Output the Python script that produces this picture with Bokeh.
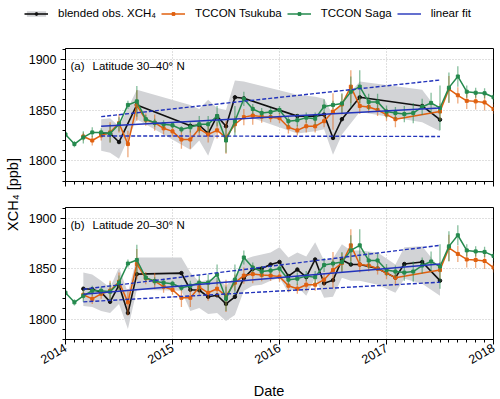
import math
from bokeh.plotting import figure
from bokeh.models import Range1d, FixedTicker, Legend, LegendItem, Label
from bokeh.layouts import column, row
from bokeh.embed import file_html
from bokeh.resources import INLINE

FONT = "Liberation Sans"
ORANGE = "#e0600f"
GREEN = "#258a4e"
BLUE = "#2233bb"
BLACK = "#111111"
GREY = "#d2d3d6"

# ---------------- data (x = months since Jan 2014) ----------------
tsukuba_month = [2, 3, 4, 5, 6, 7, 8, 9, 10, 11, 12, 13, 14, 15, 16, 17, 18, 19, 20, 21, 22, 23, 24,
                 25, 26, 27, 28, 29, 30, 31, 32, 33, 34, 35, 36, 37, 42, 43, 44, 45, 46, 47, 48]
tsukuba_xch4 = [1824, 1820, 1825, 1828, 1837, 1816.5, 1854.5, 1840.5, 1837.5, 1832, 1829, 1821, 1821,
                1831.5, 1826, 1830, 1823, 1836, 1843, 1844.5, 1843.5, 1843, 1842, 1833, 1830, 1834, 1834,
                1839, 1848.5, 1855.5, 1873, 1854, 1853, 1850, 1845.5, 1841, 1848.5, 1870.5, 1864.5, 1859,
                1858.5, 1857.5, 1851]
tsukuba_err = [4, 5, 5, 10, 9, 13, 15, 6, 8, 6, 5, 9, 9, 8, 8, 8, 16, 8, 8, 9, 6, 5, 5, 6, 5, 6, 6, 6,
               18, 10, 16, 8, 6, 6, 6, 8, 8, 13, 8, 8, 8, 8, 5]

saga_month = list(range(0, 49))
saga_xch4 = [1826, 1816.5, 1823, 1828, 1828, 1827, 1836, 1855, 1858.5, 1841,
             1837.5, 1836, 1835, 1831, 1833, 1836, 1836, 1844, 1820, 1839,
             1861, 1851, 1847, 1848, 1850, 1839, 1840, 1842.5, 1841.5, 1853.5,
             1855, 1856.5, 1868, 1873, 1858, 1858, 1848.5, 1847, 1846, 1847,
             1853, 1857, 1852, 1872, 1883, 1868, 1867, 1866.5, 1862.5]
saga_err = [3, 3, 6, 5, 4, 9, 7, 4, 15, 4, 4, 4, 3, 3, 5, 8, 8, 10, 12, 15,
            7, 5, 5, 4, 4, 5, 6, 5, 6, 7, 4, 10, 15, 16, 8, 8, 6, 6, 8, 10,
            8, 10, 22, 15, 10, 6, 5, 5, 5]

blend_a_month = [4, 5, 6, 8, 14, 15, 16, 17, 18, 19, 20, 26, 28, 29, 30, 31, 33, 40, 42]
blend_a_xch4 = [1827, 1827, 1818.5, 1855, 1834.5, 1835, 1827, 1844, 1834, 1862.5, 1861.5, 1844, 1844,
                1845.5, 1822.5, 1841, 1862.5, 1854, 1840.5]
blend_a_hi = [1841, 1842, 1834, 1870, 1855, 1851, 1860, 1852, 1850, 1879, 1878, 1865, 1863, 1861, 1845,
              1858, 1878, 1870, 1847]
blend_a_lo = [1810, 1808, 1802, 1841, 1811, 1820, 1805, 1830, 1820, 1838, 1845, 1827, 1829, 1831, 1806,
              1826, 1848, 1838, 1829]

blend_b_month = [2, 3, 4, 5, 6, 7, 8, 13, 14, 15, 16, 17, 18, 19, 20, 21, 22, 23, 24, 25, 26, 27, 28,
                 29, 30, 31, 32, 33, 35, 37, 38, 40, 42]
blend_b_xch4 = [1830, 1829.5, 1826.5, 1817, 1833.5, 1806, 1844.5, 1845.5, 1829, 1828.5, 1822, 1823.5,
                1815, 1822, 1840.5, 1849.5, 1850, 1854, 1856.5, 1842.5, 1849, 1841.5, 1859, 1835.5,
                1838.5, 1858.5, 1854, 1854, 1850, 1841, 1854.5, 1856.5, 1838]
blend_b_hi = [1846, 1844, 1838, 1831, 1851, 1826, 1861, 1861, 1846, 1837, 1839, 1841, 1833, 1842, 1859,
              1862, 1864, 1866, 1871, 1861, 1866, 1862, 1876, 1858, 1860, 1874, 1868, 1868, 1866, 1854,
              1871, 1872, 1850]
blend_b_lo = [1813, 1812, 1808, 1806, 1815, 1790, 1829, 1828, 1808, 1811, 1805, 1806, 1798, 1804, 1828,
              1833, 1834, 1838, 1841, 1826, 1832, 1823, 1841, 1821, 1822, 1841, 1838, 1838, 1834, 1826,
              1840, 1835, 1823]

fit_a_month = [4, 42]
fit_a = [1834, 1852]
fit_a_hi = [1843.5, 1879.5]
fit_a_lo = [1824.5, 1824]

fit_b_month = [2, 42]
fit_b = [1824.5, 1854.5]
fit_b_hi = [1829.5, 1873]
fit_b_lo = [1817, 1836.5]

year_ticks = [2014, 2015, 2016, 2017, 2018]
xch4_ticks = [1800, 1850, 1900]
xch4_minor = list(range(1780, 1911, 10))


def to_year(months):
    return [2014 + m / 12.0 for m in months]


month_ticks = to_year(range(0, 49))


def style_axis(ax, label_size):
    ax.axis_line_color = "black"
    ax.axis_line_width = 1
    ax.major_tick_line_color = "black"
    ax.minor_tick_line_color = "black"
    ax.major_tick_in = 0
    ax.major_tick_out = 5
    ax.minor_tick_in = 0
    ax.minor_tick_out = 3
    ax.major_label_text_font = FONT
    ax.major_label_text_font_size = label_size
    ax.major_label_text_color = "black"


def blank_strip(width, height):
    f = figure(width=width, height=height, x_range=Range1d(0, 1), y_range=Range1d(0, 1),
               output_backend="svg", toolbar_location=None, min_border=0,
               x_axis_location=None, y_axis_location=None)
    f.outline_line_color = None
    f.grid.visible = False
    return f


def make_panel(tag, lat, bm, bv, bhi, blo, fm, fv, fhi, flo, height, top, bottom, frame_h, last):
    p = figure(width=473, height=height, x_range=Range1d(2014, 2018),
               y_range=Range1d(1779.7, 1910.5), output_backend="svg", toolbar_location=None,
               min_border_left=38, min_border_right=5, min_border_top=top,
               min_border_bottom=bottom)
    p.outline_line_color = "black"
    p.outline_line_width = 1
    p.outline_line_alpha = 1

    bx = to_year(bm)
    p.varea(x=bx, y1=blo, y2=bhi, fill_color=GREY, fill_alpha=1)
    p.line(bx, bv, line_color=BLACK, line_width=1.6)
    p.scatter(bx, bv, marker="circle", size=3.5, color=BLACK)

    tx = to_year(tsukuba_month)
    p.segment(x0=tx, y0=[v - e for v, e in zip(tsukuba_xch4, tsukuba_err)], x1=tx,
              y1=[v + e for v, e in zip(tsukuba_xch4, tsukuba_err)],
              line_color=ORANGE, line_alpha=0.55, line_width=1.3)
    p.line(tx, tsukuba_xch4, line_color=ORANGE, line_width=1.5)
    p.scatter(tx, tsukuba_xch4, marker="square", size=3, color=ORANGE)

    sx = to_year(saga_month)
    p.segment(x0=sx, y0=[v - e for v, e in zip(saga_xch4, saga_err)], x1=sx,
              y1=[v + e for v, e in zip(saga_xch4, saga_err)],
              line_color=GREEN, line_alpha=0.55, line_width=1.3)
    p.line(sx, saga_xch4, line_color=GREEN, line_width=1.5)
    p.scatter(sx, saga_xch4, marker="square", size=3, color=GREEN)

    fx = to_year(fm)
    p.line(fx, fv, line_color=BLUE, line_width=1.4)
    p.line(fx, fhi, line_color=BLUE, line_width=1.4, line_dash="4 2")
    p.line(fx, flo, line_color=BLUE, line_width=1.4, line_dash="4 2")

    xa = p.xaxis[0]
    xa.ticker = FixedTicker(ticks=year_ticks, minor_ticks=month_ticks)
    style_axis(xa, "12.5px")
    if last:
        xa.major_label_orientation = math.pi / 6
        xa.major_label_standoff = 2
    else:
        xa.major_label_text_font_size = "10px"
        xa.major_label_standoff = 0
        xa.major_label_overrides = {y: "" for y in year_ticks}

    ya = p.yaxis[0]
    ya.ticker = FixedTicker(ticks=xch4_ticks, minor_ticks=xch4_minor)
    style_axis(ya, "12.5px")
    ya.major_label_standoff = 4

    p.xgrid.ticker = FixedTicker(ticks=year_ticks)
    p.ygrid.ticker = FixedTicker(ticks=xch4_ticks)
    for g in (p.xgrid, p.ygrid):
        g.grid_line_color = "#b0b0b0"
        g.grid_line_dash = "1 2"
        g.grid_line_width = 0.8

    p.add_layout(Label(x=5, y=frame_h - 17.5, x_units="screen", y_units="screen", text=tag,
                       text_font=FONT, text_font_size="11.5px", text_baseline="alphabetic",
                       text_color="black"))
    p.add_layout(Label(x=27, y=frame_h - 17.5, x_units="screen", y_units="screen", text=lat,
                       text_font=FONT, text_font_size="11.5px", text_baseline="alphabetic",
                       text_color="black"))
    return p


p1 = make_panel("(a)", "Latitude 30\u201340\u00b0 N", blend_a_month, blend_a_xch4, blend_a_hi,
                blend_a_lo, fit_a_month, fit_a, fit_a_hi, fit_a_lo,
                height=171, top=18, bottom=20, frame_h=133, last=False)
p2 = make_panel("(b)", "Latitude 20\u201330\u00b0 N", blend_b_month, blend_b_xch4, blend_b_hi,
                blend_b_lo, fit_b_month, fit_b, fit_b_hi, fit_b_lo,
                height=174, top=6, bottom=36, frame_h=132, last=True)

# ---------------- x-axis title strip (its frame is aligned with the panels' frames) ----------------
datef = blank_strip(473, 24)
datef.add_layout(Label(x=203.5, y=9, x_units="screen", y_units="screen", text="Date",
                       text_align="center", text_baseline="middle", text_font=FONT,
                       text_font_size="14.5px", text_color="black"))

# ---------------- legend strip (legend-only renderers lie outside the visible range) ----------------
leg = blank_strip(498, 30)
off_x = [10, 11]
off_y = [10, 10]
r_band = leg.varea(x=off_x, y1=off_y, y2=[11, 11], fill_color=GREY)
r_bl = leg.line(off_x, off_y, line_color=BLACK, line_width=1.6)
r_bs = leg.scatter(off_x, off_y, marker="circle", size=3.5, color=BLACK)
r_tl = leg.line(off_x, off_y, line_color=ORANGE, line_width=1.5)
r_te = leg.scatter(off_x, off_y, marker="dash", angle=math.pi / 2, size=10, line_color=ORANGE,
                   line_alpha=0.55, line_width=1.3)
r_ts = leg.scatter(off_x, off_y, marker="square", size=3, color=ORANGE)
r_sl = leg.line(off_x, off_y, line_color=GREEN, line_width=1.5)
r_se = leg.scatter(off_x, off_y, marker="dash", angle=math.pi / 2, size=10, line_color=GREEN,
                   line_alpha=0.55, line_width=1.3)
r_ss = leg.scatter(off_x, off_y, marker="square", size=3, color=GREEN)
r_fl = leg.line(off_x, off_y, line_color=BLUE, line_width=1.4)

legend = Legend(items=[
    LegendItem(label="blended obs. XCH\u2084", renderers=[r_band, r_bl, r_bs]),
    LegendItem(label="TCCON Tsukuba", renderers=[r_tl, r_te, r_ts]),
    LegendItem(label="TCCON Saga", renderers=[r_sl, r_se, r_ss]),
    LegendItem(label="linear fit", renderers=[r_fl]),
], orientation="horizontal", location=(24, 11), glyph_width=24, glyph_height=7,
    label_standoff=10, spacing=5, padding=0, margin=0, border_line_color=None,
    background_fill_alpha=0, label_text_font=FONT, label_text_font_size="11.5px",
    label_height=12, label_text_color="black")
leg.add_layout(legend)

# ---------------- y-axis title strip ----------------
ylab = blank_strip(25, 369)
ylab.add_layout(Label(x=12, y=205, x_units="screen", y_units="screen", text="XCH\u2084 [ppb]",
                      angle=math.pi / 2, text_align="center", text_baseline="middle",
                      text_font=FONT, text_font_size="14.5px", text_color="black"))

layout = column(leg, row(ylab, column(p1, p2, datef)))

open("out.html", "w").write(file_html(layout, INLINE))
